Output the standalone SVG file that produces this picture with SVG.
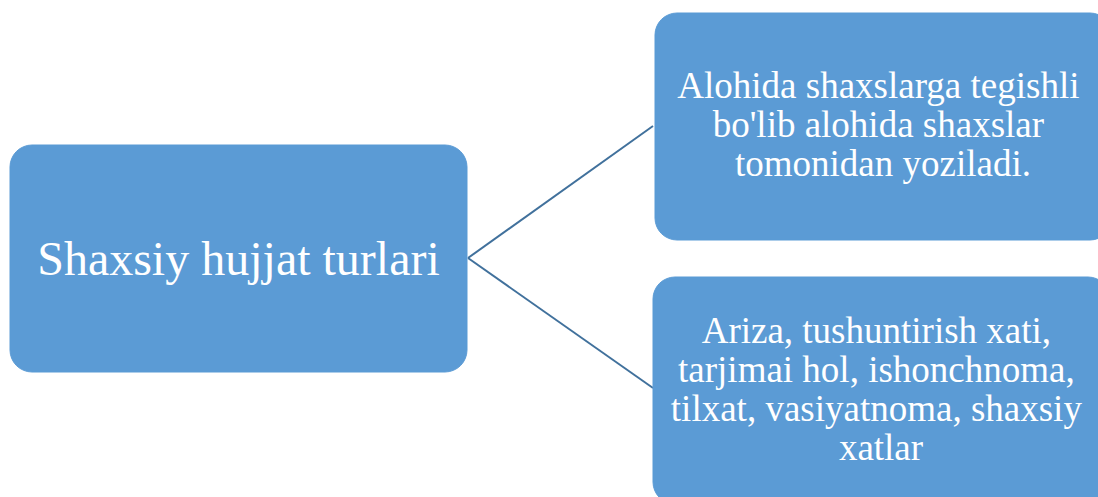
<svg xmlns="http://www.w3.org/2000/svg" width="1098" height="497" viewBox="0 0 1098 497">
  <style>
    .box { fill: #5B9BD5; stroke: #5B9BD5; stroke-width: 1; }
    .lbl { fill: #FFFFFF; font-family: "Liberation Serif", "Times New Roman", serif; text-anchor: middle; }
    .link { stroke: #41719C; stroke-width: 2; fill: none; }
  </style>
  <rect width="1098" height="497" fill="#FFFFFF"/>
  <g id="connectors">
    <line class="link" x1="468" y1="258" x2="653" y2="126"/>
    <line class="link" x1="468" y1="258" x2="653" y2="388"/>
  </g>
  <g id="root">
    <rect class="box" x="10" y="145" width="457" height="227" rx="22" ry="22"/>
    <text class="lbl" x="238.5" y="275" font-size="48">Shaxsiy hujjat turlari</text>
  </g>
  <g id="child-1">
    <rect class="box" x="655" y="13" width="457" height="227" rx="22" ry="22"/>
    <text class="lbl" font-size="37">
      <tspan x="883" y="98">Alohida shaxslarga tegishli</tspan>
      <tspan x="883" y="137">bo'lib alohida shaxslar</tspan>
      <tspan x="883" y="176">tomonidan yoziladi.</tspan>
    </text>
  </g>
  <g id="child-2">
    <rect class="box" x="653" y="277" width="457" height="227" rx="22" ry="22"/>
    <text class="lbl" font-size="37">
      <tspan x="881" y="343">Ariza, tushuntirish xati,</tspan>
      <tspan x="881" y="382">tarjimai hol, ishonchnoma,</tspan>
      <tspan x="881" y="421">tilxat, vasiyatnoma, shaxsiy</tspan>
      <tspan x="881" y="460">xatlar</tspan>
    </text>
  </g>
</svg>
